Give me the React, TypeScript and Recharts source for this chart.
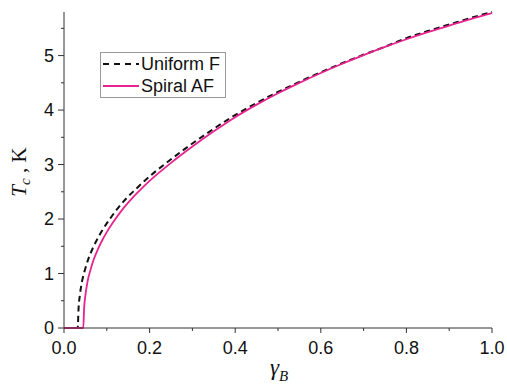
import { LineChart, Line, XAxis, YAxis, Legend, Label } from "recharts"

// gamma_B values and Tc (K)
const uniformX = [0, 0.032, 0.034, 0.037, 0.042, 0.049, 0.057, 0.067, 0.077, 0.087, 0.107, 0.127, 0.147, 0.168, 0.188, 0.239, 0.29, 0.341, 0.392, 0.443, 0.494, 0.545, 0.596, 0.647, 0.698, 0.749, 0.8, 0.85, 0.9, 0.95, 1.0]
const uniformTc = [0, 0, 0.36, 0.6, 0.85, 1.07, 1.27, 1.46, 1.62, 1.76, 2.0, 2.21, 2.39, 2.55, 2.7, 3.03, 3.33, 3.61, 3.87, 4.1, 4.31, 4.5, 4.68, 4.85, 5.01, 5.16, 5.32, 5.45, 5.57, 5.69, 5.8]

const spiralX = [0, 0.045, 0.047, 0.05, 0.055, 0.062, 0.07, 0.08, 0.09, 0.1, 0.12, 0.14, 0.16, 0.18, 0.2, 0.25, 0.3, 0.35, 0.4, 0.45, 0.5, 0.55, 0.6, 0.65, 0.7, 0.75, 0.8, 0.85, 0.9, 0.95, 1.0]
const spiralTc = [0, 0, 0.36, 0.6, 0.85, 1.07, 1.27, 1.46, 1.62, 1.76, 2.0, 2.21, 2.39, 2.55, 2.7, 3.03, 3.33, 3.61, 3.87, 4.1, 4.31, 4.5, 4.68, 4.85, 5.01, 5.16, 5.3, 5.43, 5.55, 5.67, 5.78]

const xTicks = [0, 0.1, 0.2, 0.3, 0.4, 0.5, 0.6, 0.7, 0.8, 0.9, 1.0]
const yTicks = [0, 0.5, 1, 1.5, 2, 2.5, 3, 3.5, 4, 4.5, 5, 5.5]

const uniformData = uniformX.map((x, i) => ({ x, tc: uniformTc[i] }))
const spiralData = spiralX.map((x, i) => ({ x, tc: spiralTc[i] }))

const axisColor = "#333"
const pink = "#e8238f"
const sans = "'Liberation Sans', Arial, sans-serif"
const serif = "'Liberation Serif', 'Times New Roman', serif"

function XTick(props: any) {
  const { x, y, payload } = props
  const v = payload.value
  const major = Math.round(v * 10) % 2 === 0
  return (
    <g>
      <line x1={x} x2={x} y1={y} y2={y + (major ? 5 : 3)} stroke={axisColor} strokeWidth={1} />
      {major && (
        <text x={x} y={y + 26} textAnchor="middle" fontSize={18} fontFamily={sans} fill="#111">
          {v.toFixed(1)}
        </text>
      )}
    </g>
  )
}

function YTick(props: any) {
  const { x, y, payload } = props
  const v = payload.value
  const major = Number.isInteger(v)
  return (
    <g>
      <line x1={x - (major ? 6 : 3)} x2={x} y1={y} y2={y} stroke={axisColor} strokeWidth={1} />
      {major && (
        <text x={x - 10} y={y + 6} textAnchor="end" fontSize={18} fontFamily={sans} fill="#111">
          {v}
        </text>
      )}
    </g>
  )
}

function LegendBox() {
  return (
    <div
      style={{
        border: "1px solid #999",
        background: "#fff",
        width: 124,
        height: 44,
        fontFamily: sans,
        fontSize: 18,
        color: "#111",
        lineHeight: "22px",
      }}
    >
      <div style={{ display: "flex", alignItems: "center", height: 22 }}>
        <svg width={40} height={22}>
          <line x1={2} x2={38} y1={11} y2={11} stroke="#111" strokeWidth={2} strokeDasharray="6 5" />
        </svg>
        <span>Uniform F</span>
      </div>
      <div style={{ display: "flex", alignItems: "center", height: 22 }}>
        <svg width={40} height={22}>
          <line x1={2} x2={38} y1={11} y2={11} stroke={pink} strokeWidth={2} />
        </svg>
        <span>Spiral AF</span>
      </div>
    </div>
  )
}

export default function App() {
  return (
    <div style={{ position: "absolute", left: 0, top: 0, background: "#fff" }}>
      <LineChart width={507} height={387} margin={{ top: 12, right: 15, bottom: 0, left: 0 }}>
        <XAxis
          dataKey="x"
          type="number"
          domain={[0, 1]}
          ticks={xTicks}
          interval={0}
          height={59}
          tickSize={0}
          tickMargin={0}
          tickLine={false}
          tick={<XTick />}
          axisLine={{ stroke: axisColor }}
          allowDuplicatedCategory={false}
        >
          <Label
            content={() => (
              <text x={270} y={375} fontFamily={serif} fill="#111">
                <tspan fontStyle="italic" fontSize={23}>γ</tspan>
                <tspan fontStyle="italic" fontSize={15} dy={6}>B</tspan>
              </text>
            )}
          />
        </XAxis>
        <XAxis xAxisId="top" orientation="top" type="number" domain={[0, 1]} height={0} tick={false} tickLine={false} axisLine={{ stroke: axisColor }} />
        <YAxis
          type="number"
          domain={[0, 5.8]}
          ticks={yTicks}
          interval={0}
          width={64}
          tickSize={0}
          tickMargin={0}
          tickLine={false}
          tick={<YTick />}
          axisLine={{ stroke: axisColor }}
        >
          <Label
            content={() => (
              <text transform="rotate(-90 26 172)" x={26} y={172} textAnchor="middle" fontFamily={serif} fontSize={21} fill="#111">
                <tspan fontStyle="italic">T</tspan>
                <tspan fontStyle="italic" fontSize={15} dy={4}>c</tspan>
                <tspan dy={-4}> , K</tspan>
              </text>
            )}
          />
        </YAxis>
        <YAxis yAxisId="right" orientation="right" type="number" domain={[0, 5.8]} width={0} tick={false} tickLine={false} axisLine={{ stroke: axisColor }} />
        <Legend
          layout="vertical"
          align="center"
          verticalAlign="middle"
          wrapperStyle={{ left: 100, top: 52, width: 126 }}
          content={() => <LegendBox />}
        />
        <Line
          data={uniformData}
          dataKey="tc"
          type="monotone"
          stroke="#111"
          strokeWidth={2}
          strokeDasharray="6 4"
          dot={false}
          activeDot={false}
          isAnimationActive={false}
        />
        <Line
          data={spiralData}
          dataKey="tc"
          type="monotone"
          stroke={pink}
          strokeWidth={1.8}
          dot={false}
          activeDot={false}
          isAnimationActive={false}
        />
      </LineChart>
    </div>
  )
}
